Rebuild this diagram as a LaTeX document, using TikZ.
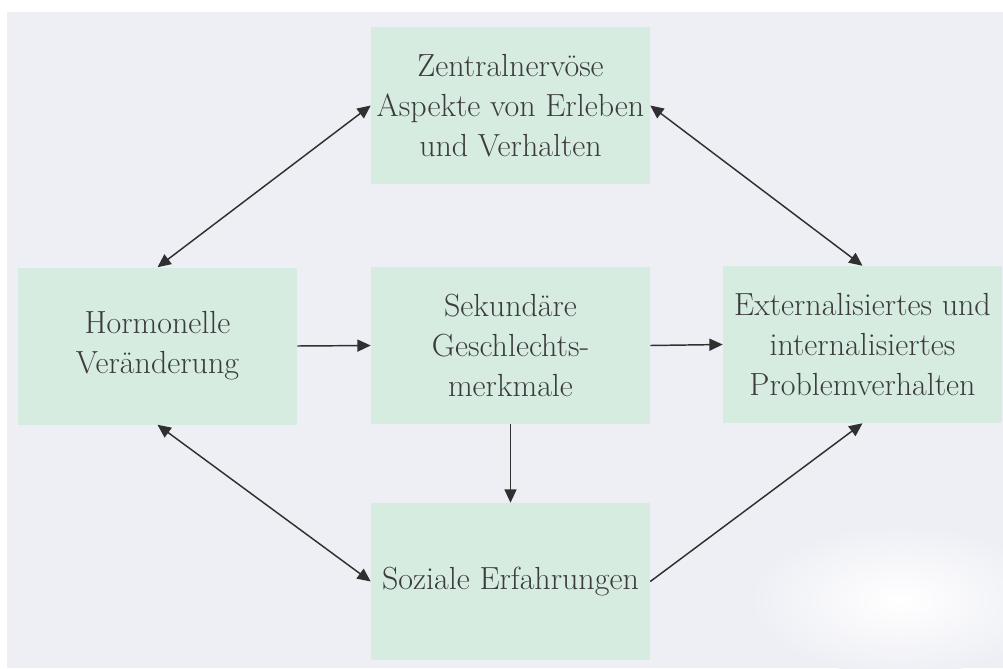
\documentclass[tikz,border=0pt]{standalone}
\usetikzlibrary{arrows.meta}
\definecolor{bgc}{HTML}{EEEFF5}
\definecolor{boxc}{HTML}{D6ECE0}
\definecolor{txtc}{HTML}{3C3C3C}
\definecolor{arrc}{HTML}{303030}
\tikzset{
  box/.style={rectangle, fill=boxc, draw=none, inner sep=2pt, align=center,
    text=txtc, font=\fontsize{24}{30}\selectfont,
    minimum width={279*0.75pt}, minimum height={157*0.75pt}},
  conn/.style={draw=arrc, line width=1.1pt, -{Triangle[length=10pt,width=9pt]}},
  bconn/.style={draw=arrc, line width=1.1pt, {Triangle[length=10pt,width=9pt]}-{Triangle[length=10pt,width=9pt]}}
}
\begin{document}
\begin{tikzpicture}[x=0.75pt,y=-0.75pt]
\useasboundingbox (0,0) rectangle (1003,668);
\fill[white] (0,0) rectangle (1003,668);
\fill[bgc] (7,12) rectangle (1003,668);
\shade[inner color=white, outer color=bgc] (900,600) ellipse [x radius=150, y radius=75];
\fill[bgc] (7,12) rectangle (1003,440);
\node[box] (top) at (510.5,105.5) {Zentralnervöse\\Aspekte von Erleben\\und Verhalten};
\node[box] (left) at (157.5,346) {Hormonelle\\Veränderung};
\node[box] (mid) at (510.5,345.5) {Sekundäre\\Geschlechts-\\merkmale};
\node[box] (right) at (862.5,344.5) {Externalisiertes und\\internalisiertes\\Problemverhalten};
\node[box] (bot) at (510.5,581.5) {Soziale Erfahrungen};
\draw[bconn] (left.north) -- (top.west);
\draw[bconn] (top.east) -- (right.north);
\draw[bconn] (left.south) -- (bot.west);
\draw[conn] (bot.east) -- (right.south);
\draw[conn] (left.east) -- (mid.west);
\draw[conn] (mid.east) -- (right.west);
\draw[conn] (mid.south) -- (bot.north);
\end{tikzpicture}
\end{document}
